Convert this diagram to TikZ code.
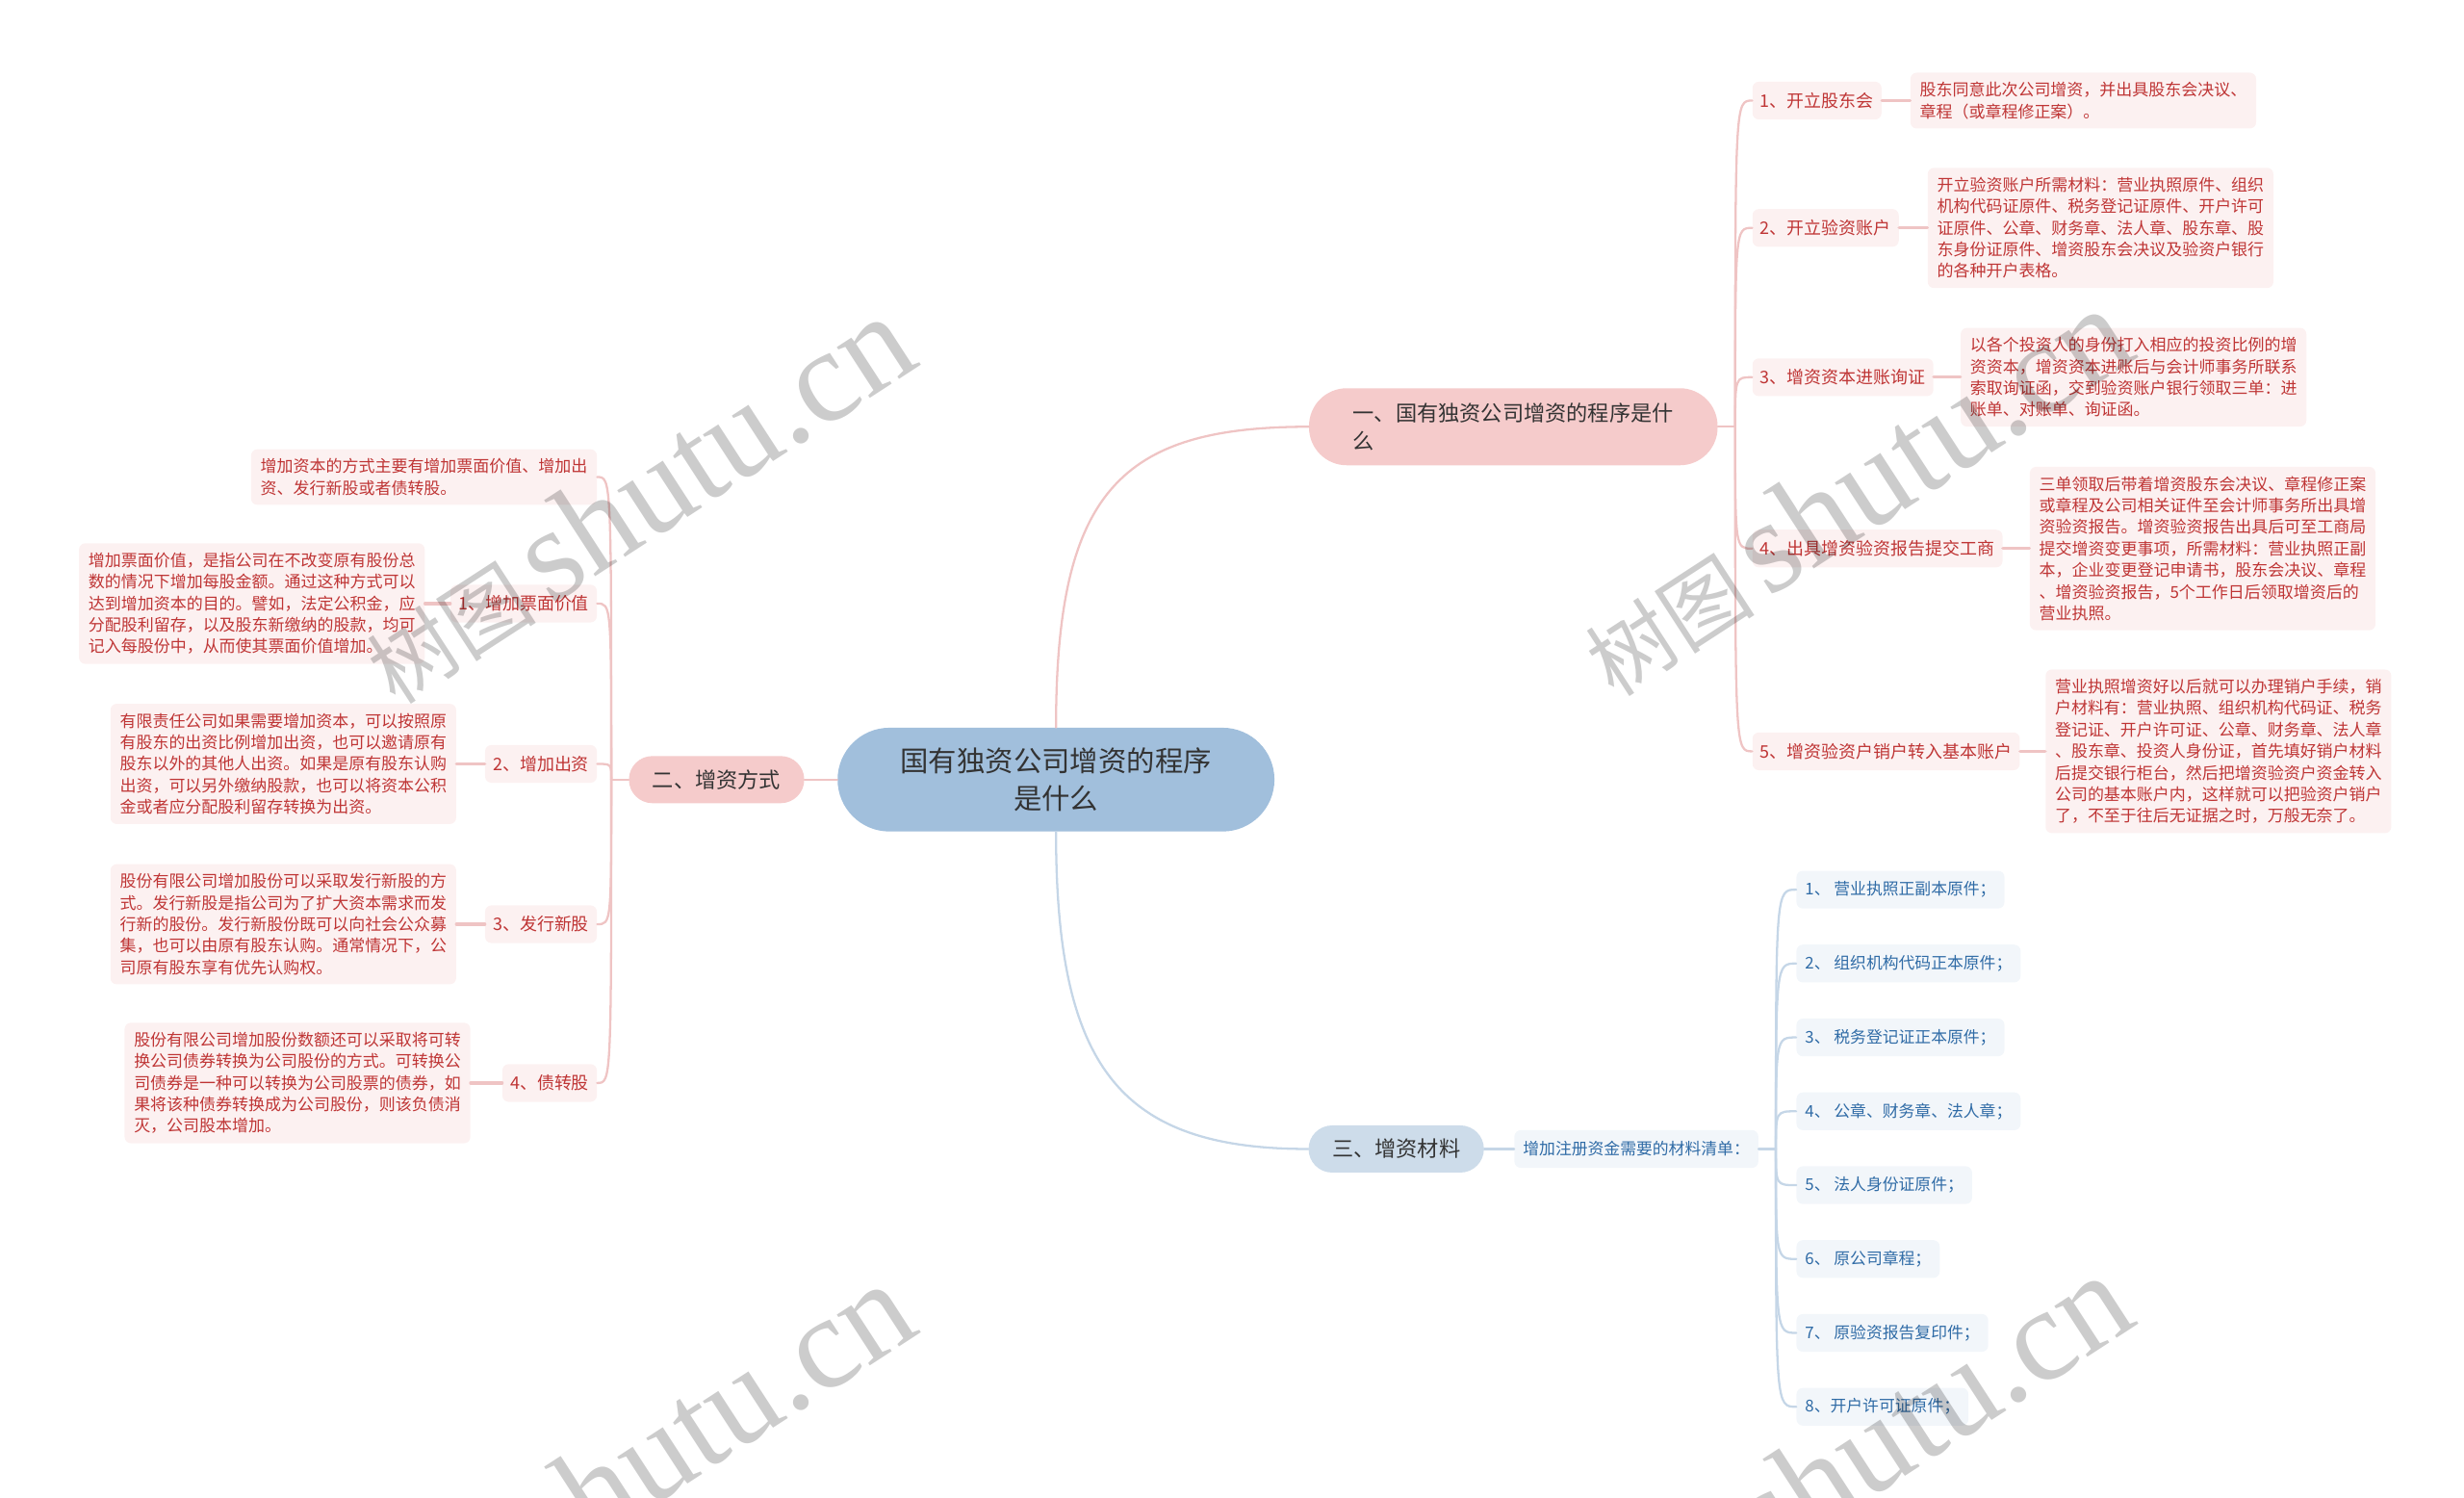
\documentclass[tikz,border=0pt]{standalone}
\usepackage{fontspec}
\setmainfont{Noto Sans CJK SC}
\newfontfamily\wmserif{Liberation Serif}
\usetikzlibrary{positioning}

\definecolor{rootblue}{HTML}{A1BFDC}
\definecolor{topicpink}{HTML}{F5CBCB}
\definecolor{topicblue}{HTML}{CDDCEA}
\definecolor{leafpink}{HTML}{FCF1F1}
\definecolor{leafblue}{HTML}{F2F6FA}
\definecolor{textred}{HTML}{BF3535}
\definecolor{textblue}{HTML}{2F6BA6}
\definecolor{textdark}{HTML}{333333}
\definecolor{linepink}{HTML}{EFC4C4}
\definecolor{lineblue}{HTML}{C5D6E7}

\begin{document}
\begin{tikzpicture}[x=1pt, y=-1pt, line cap=round,
  rootpill/.style={fill=rootblue, rounded corners=33pt, minimum width=278pt, minimum height=66pt,
    align=center, text=textdark, font=\fontsize{18}{24}\selectfont},
  topicpill/.style={fill=topicpink, rounded corners=15pt, minimum height=30pt, inner xsep=15pt,
    text=textdark, font=\fontsize{13.6}{18}\selectfont},
  keyred/.style={fill=leafpink, rounded corners=4pt, inner xsep=5pt, inner ysep=5pt, minimum height=24pt,
    text=textred, font=\fontsize{11}{14}\selectfont},
  notered/.style={fill=leafpink, rounded corners=4pt, inner xsep=6pt, inner ysep=6pt, align=left,
    text=textred, font=\fontsize{10.4}{13.7}\selectfont},
  keyblue/.style={fill=leafblue, rounded corners=4pt, inner xsep=5.5pt, inner ysep=5pt, minimum height=24pt,
    text=textblue, font=\fontsize{10.3}{13.7}\selectfont},
  plink/.style={draw=linepink, line width=1.4pt},
  blink/.style={draw=lineblue, line width=1.4pt},
  wmark/.style={text=black, text opacity=0.2, inner sep=0pt}]
  \useasboundingbox (0,0) rectangle (1568,953);

  % centre and main topics
  \node[rootpill] (root) at (672, 496) {国有独资公司增资的程序\\是什么};
  \node[topicpill, minimum width=260pt, minimum height=49pt, rounded corners=24pt, align=left] (t1)
    at (963, 271.5) {一、国有独资公司增资的程序是什\\么};
  \node[topicpill] (t2) at (456, 496) {二、增资方式};
  \node[topicpill, fill=topicblue] (t3) at (888.5, 731) {三、增资材料};

  \draw[plink] (root.north) .. controls +(0,-150) and +(-120,0) .. (t1.west);
  \draw[plink] (root.west) -- (t2.east);
  \draw[blink] (root.south) .. controls +(0,150) and +(-120,0) .. (t3.west);

  % one: the five steps
  \node[keyred, anchor=west] (s1) at (1115, 64) {1、开立股东会};
  \node[keyred, anchor=west] (s2) at (1115, 145) {2、开立验资账户};
  \node[keyred, anchor=west] (s3) at (1115, 240) {3、增资资本进账询证};
  \node[keyred, anchor=west] (s4) at (1115, 349) {4、出具增资验资报告提交工商};
  \node[keyred, anchor=west] (s5) at (1115, 478) {5、增资验资户销户转入基本账户};

  \node[notered, right=18pt of s1] (n1) {股东同意此次公司增资，并出具股东会决议、\\章程（或章程修正案）。};
  \node[notered, right=18pt of s2] (n2) {开立验资账户所需材料：营业执照原件、组织\\机构代码证原件、税务登记证原件、开户许可\\证原件、公章、财务章、法人章、股东章、股\\东身份证原件、增资股东会决议及验资户银行\\的各种开户表格。};
  \node[notered, right=17pt of s3] (n3) {以各个投资人的身份打入相应的投资比例的增\\资资本，增资资本进账后与会计师事务所联系\\索取询证函，交到验资账户银行领取三单：进\\账单、对账单、询证函。};
  \node[notered, right=17pt of s4] (n4) {三单领取后带着增资股东会决议、章程修正案\\或章程及公司相关证件至会计师事务所出具增\\资验资报告。增资验资报告出具后可至工商局\\提交增资变更事项，所需材料：营业执照正副\\本，企业变更登记申请书，股东会决议、章程\\、增资验资报告，5个工作日后领取增资后的\\营业执照。};
  \node[notered, right=16pt of s5] (n5) {营业执照增资好以后就可以办理销户手续，销\\户材料有：营业执照、组织机构代码证、税务\\登记证、开户许可证、公章、财务章、法人章\\、股东章、投资人身份证，首先填好销户材料\\后提交银行柜台，然后把增资验资户资金转入\\公司的基本账户内，这样就可以把验资户销户\\了，不至于往后无证据之时，万般无奈了。};

  \coordinate (j1) at ([xshift=11pt]t1.east);
  \draw[plink] (t1.east) -- (j1);
  \foreach \s in {1,...,5} {
    \draw[plink] (j1) .. controls (j1 |- s\s.west) .. (s\s.west);
    \draw[plink, line width=2pt] (s\s.east) -- (n\s.west);
  }

  % two: the ways
  \node[notered, anchor=east] (a0) at (380, 303.5) {增加资本的方式主要有增加票面价值、增加出\\资、发行新股或者债转股。};
  \node[keyred, anchor=east] (a1) at (380, 384) {1、增加票面价值};
  \node[keyred, anchor=east] (a2) at (380, 486) {2、增加出资};
  \node[keyred, anchor=east] (a3) at (380, 588) {3、发行新股};
  \node[keyred, anchor=east] (a4) at (380, 689) {4、债转股};

  \node[notered, left=16pt of a1] (m1) {增加票面价值，是指公司在不改变原有股份总\\数的情况下增加每股金额。通过这种方式可以\\达到增加资本的目的。譬如，法定公积金，应\\分配股利留存，以及股东新缴纳的股款，均可\\记入每股份中，从而使其票面价值增加。};
  \node[notered, left=18pt of a2] (m2) {有限责任公司如果需要增加资本，可以按照原\\有股东的出资比例增加出资，也可以邀请原有\\股东以外的其他人出资。如果是原有股东认购\\出资，可以另外缴纳股款，也可以将资本公积\\金或者应分配股利留存转换为出资。};
  \node[notered, left=18pt of a3] (m3) {股份有限公司增加股份可以采取发行新股的方\\式。发行新股是指公司为了扩大资本需求而发\\行新的股份。发行新股份既可以向社会公众募\\集，也可以由原有股东认购。通常情况下，公\\司原有股东享有优先认购权。};
  \node[notered, left=20pt of a4] (m4) {股份有限公司增加股份数额还可以采取将可转\\换公司债券转换为公司股份的方式。可转换公\\司债券是一种可以转换为公司股票的债券，如\\果将该种债券转换成为公司股份，则该负债消\\灭，公司股本增加。};

  \coordinate (j2) at ([xshift=-11pt]t2.west);
  \draw[plink] (t2.west) -- (j2);
  \foreach \s in {0,...,4}
    \draw[plink] (j2) .. controls (j2 |- a\s.east) .. (a\s.east);
  \foreach \s in {1,...,4}
    \draw[plink, line width=2pt] (a\s.west) -- (m\s.east);

  % three: the list of papers
  \node[keyblue, right=19pt of t3] (c0) {增加注册资金需要的材料清单：};
  \node[keyblue, anchor=west] (c1) at (1143, 566) {1、 营业执照正副本原件；};
  \node[keyblue, anchor=west] (c2) at (1143, 613) {2、 组织机构代码正本原件；};
  \node[keyblue, anchor=west] (c3) at (1143, 660) {3、 税务登记证正本原件；};
  \node[keyblue, anchor=west] (c4) at (1143, 707) {4、 公章、财务章、法人章；};
  \node[keyblue, anchor=west] (c5) at (1143, 754) {5、 法人身份证原件；};
  \node[keyblue, anchor=west] (c6) at (1143, 801) {6、 原公司章程；};
  \node[keyblue, anchor=west] (c7) at (1143, 848) {7、 原验资报告复印件；};
  \node[keyblue, anchor=west] (c8) at (1143, 895) {8、开户许可证原件；};

  \draw[blink] (t3.east) -- (c0.west);
  \coordinate (j3) at ([xshift=11pt]c0.east);
  \draw[blink] (c0.east) -- (j3);
  \foreach \s in {1,...,8}
    \draw[blink] (j3) .. controls (j3 |- c\s.west) .. (c\s.west);

  % watermark
  \foreach \p/\q in {405/318, 1180/313, 405/933, 1180/928}
    \node[wmark, rotate=33] (wm-\p-\q) at (\p, \q)
      {\fontsize{54}{54}\selectfont 树图\,\wmserif\fontsize{84}{84}\selectfont shutu.cn};
\end{tikzpicture}
\end{document}
